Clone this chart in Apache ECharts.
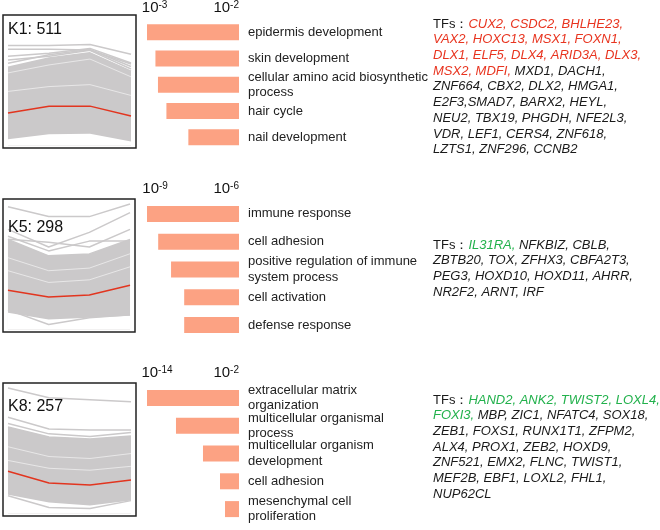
<!DOCTYPE html>
<html>
<head>
<meta charset="utf-8">
<script src="https://cdn.jsdelivr.net/npm/echarts@6/dist/echarts.min.js"></script>
<style>
  html, body { margin: 0; padding: 0; background: #fff; }
  #main { width: 660px; height: 530px; }
</style>
</head>
<body>
<div id="main"></div>
<script>
// ---- cluster profiles (4 time points, relative expression 0-100) ----
var timePoints = [0, 1, 2, 3];

var k1Mean = [24.8, 30.1, 30.1, 22.6];
var k1BandLow = [4.7, 8.5, 9.0, 3.0];
var k1BandHigh = [60, 67, 71, 57];
var k1Lines = [
  [76.7, 76.7, 77.4, 69.9],
  [73.7, 73.7, 73.2, 62.4],
  [68.4, 70.7, 74.4, 63.2],
  [65.4, 68.4, 72.9, 58.6],
  [63.0, 69.5, 73.5, 60.5]
];
var k1Gaps = [
  [55.6, 61.7, 66.2, 52.6],
  [41.4, 45.1, 46.6, 38.3]
];

var k5Mean = [30.1, 24.8, 26.3, 33.8];
var k5BandLow = [12.8, 7.5, 9.0, 10.5];
var k5BandHigh = [69, 56.4, 57.9, 69];
var k5Lines = [
  [94.0, 86.5, 86.5, 96.2],
  [76.7, 63.2, 74.4, 89.5],
  [69.2, 66.9, 63.2, 76.7],
  [71.4, 60.2, 67.7, 67.7],
  [15.0, 3.8, 9.0, 11.3]
];
var k5Gaps = [
  [55, 45, 47, 58],
  [45, 36, 38, 48]
];

var k8Mean = [32.3, 23.3, 21.8, 25.6];
var k8BandLow = [14.3, 8.3, 6.0, 9.8];
var k8BandHigh = [66.2, 58.6, 57.1, 59.4];
var k8Lines = [
  [96.2, 88.7, 87.2, 85.7],
  [73.7, 64.7, 63.9, 63.9],
  [69.0, 61.0, 59.0, 62.0],
  [13.5, 4.5, 3.8, 9.8]
];
var k8Gaps = [
  [51.1, 43.6, 42.1, 45.9],
  [40.6, 34.6, 33.1, 36.1]
];

// ---- GO enrichment, values are -log10(p) ----
var k1Terms = ['epidermis development', 'skin development', 'cellular amino acid biosynthetic\nprocess', 'hair cycle', 'nail development'];
var k1LogP = [3.09, 2.99, 2.96, 2.86, 2.60];
var k1Ticks = [2, 3];

var k5Terms = ['immune response', 'cell adhesion', 'positive regulation of immune\nsystem process', 'cell activation', 'defense response'];
var k5LogP = [9.29, 8.89, 8.43, 7.96, 7.96];
var k5Ticks = [6, 9];

var k8Terms = ['extracellular matrix\norganization', 'multicellular organismal\nprocess', 'multicellular organism\ndevelopment', 'cell adhesion', 'mesenchymal cell\nproliferation'];
var k8LogP = [15.46, 11.22, 7.27, 4.78, 4.05];
var k8Ticks = [2, 14];

// ---- transcription factors, per line ----
var k1TFs = [
  [['h', 'TFs：'], ['r', 'CUX2, CSDC2, BHLHE23,']],
  [['r', 'VAX2, HOXC13, MSX1, FOXN1,']],
  [['r', 'DLX1, ELF5, DLX4, ARID3A, DLX3,']],
  [['r', 'MSX2, MDFI,'], ['k', ' MXD1, DACH1,']],
  [['k', 'ZNF664, CBX2, DLX2, HMGA1,']],
  [['k', 'E2F3,SMAD7, BARX2, HEYL,']],
  [['k', 'NEU2, TBX19, PHGDH, NFE2L3,']],
  [['k', 'VDR, LEF1, CERS4, ZNF618,']],
  [['k', 'LZTS1, ZNF296, CCNB2']]
];
var k5TFs = [
  [['h', 'TFs：'], ['g', 'IL31RA,'], ['k', ' NFKBIZ, CBLB,']],
  [['k', 'ZBTB20, TOX, ZFHX3, CBFA2T3,']],
  [['k', 'PEG3, HOXD10, HOXD11, AHRR,']],
  [['k', 'NR2F2, ARNT, IRF']]
];
var k8TFs = [
  [['h', 'TFs：'], ['g', 'HAND2, ANK2, TWIST2, LOXL4,']],
  [['g', 'FOXI3,'], ['k', ' MBP, ZIC1, NFATC4, SOX18,']],
  [['k', 'ZEB1, FOXS1, RUNX1T1, ZFPM2,']],
  [['k', 'ALX4, PROX1, ZEB2, HOXD9,']],
  [['k', 'ZNF521, EMX2, FLNC, TWIST1,']],
  [['k', 'MEF2B, EBF1, LOXL2, FHL1,']],
  [['k', 'NUP62CL']]
];

var FONT = 'Liberation Sans, Arial, sans-serif';
var GRAY = '#cbc9ca';
var RED = '#e2351f';
var BAR = '#fca283';

function pairs(arr) {
  return arr.map(function (v, i) { return [timePoints[i], v]; });
}

var grids = [], xAxes = [], yAxes = [], series = [];

function addProfile(box, low, high, lines, gaps, mean) {
  var idx = grids.length;
  grids.push({ left: box[0], top: box[1], width: box[2], height: box[3], show: true,
    borderColor: '#222', borderWidth: 1.5, backgroundColor: 'transparent' });
  xAxes.push({ type: 'value', gridIndex: idx, min: -0.122, max: 3.122, show: false });
  yAxes.push({ type: 'value', gridIndex: idx, min: -2, max: 100, show: false });
  var base = { type: 'line', xAxisIndex: idx, yAxisIndex: idx, symbol: 'none', silent: true, animation: false };
  series.push(Object.assign({}, base, { data: pairs(high),
    lineStyle: { color: GRAY, width: 1.5 }, areaStyle: { color: GRAY, opacity: 1 } }));
  series.push(Object.assign({}, base, { data: pairs(low),
    lineStyle: { color: '#fff', width: 0 }, areaStyle: { color: '#fff', opacity: 1 } }));
  gaps.forEach(function (g) {
    series.push(Object.assign({}, base, { data: pairs(g), lineStyle: { color: '#fff', width: 1, opacity: 0.55 } }));
  });
  lines.forEach(function (l) {
    series.push(Object.assign({}, base, { data: pairs(l), lineStyle: { color: GRAY, width: 1.5 } }));
  });
  series.push(Object.assign({}, base, { data: pairs(mean), lineStyle: { color: RED, width: 1.5 } }));
}

function addBars(box, terms, logp, ticks) {
  var idx = grids.length;
  grids.push({ left: box[0], top: box[1], width: box[2], height: box[3] });
  xAxes.push({
    type: 'value', gridIndex: idx, position: 'top', inverse: true,
    min: ticks[0], max: Math.max.apply(null, logp), interval: ticks[1] - ticks[0],
    axisLine: { show: false }, axisTick: { show: false }, splitLine: { show: false },
    axisLabel: {
      margin: 3, showMaxLabel: false, alignMinLabel: 'right',
      formatter: function (v) { return '{a|10}{b|-' + v + '}'; },
      rich: {
        a: { fontSize: 15, fontFamily: FONT, color: '#111', lineHeight: 16 },
        b: { fontSize: 10, fontFamily: FONT, color: '#111', verticalAlign: 'top', lineHeight: 12 }
      }
    }
  });
  yAxes.push({
    type: 'category', gridIndex: idx, data: terms, inverse: true, position: 'right',
    axisLine: { show: false }, axisTick: { show: false },
    axisLabel: { interval: 0, align: 'left', margin: 9, fontSize: 13, fontFamily: FONT, color: '#222', lineHeight: 15.5 }
  });
  series.push({ type: 'bar', xAxisIndex: idx, yAxisIndex: idx, data: logp, barWidth: 16,
    itemStyle: { color: BAR }, silent: true, animation: false, clip: true });
}

addProfile([3, 15, 133, 133], k1BandLow, k1BandHigh, k1Lines, k1Gaps, k1Mean);
addBars([147, 15.5, 92, 135], k1Terms, k1LogP, k1Ticks);
addProfile([3, 199, 132, 133], k5BandLow, k5BandHigh, k5Lines, k5Gaps, k5Mean);
addBars([147, 200, 92, 139], k5Terms, k5LogP, k5Ticks);
addProfile([3, 383, 133, 133], k8BandLow, k8BandHigh, k8Lines, k8Gaps, k8Mean);
addBars([147, 384, 92, 139], k8Terms, k8LogP, k8Ticks);

function tfText(lines) {
  return lines.map(function (segs) {
    return segs.map(function (s) { return '{' + s[0] + '|' + s[1] + '}'; }).join('');
  }).join('\n');
}
var tfRich = {
  h: { fill: '#1a1a1a', fontStyle: 'normal', fontSize: 13, fontFamily: FONT, lineHeight: 15.7 },
  r: { fill: '#e8341f', fontStyle: 'italic', fontSize: 13, fontFamily: FONT, lineHeight: 15.7 },
  g: { fill: '#22b14c', fontStyle: 'italic', fontSize: 13, fontFamily: FONT, lineHeight: 15.7 },
  k: { fill: '#1a1a1a', fontStyle: 'italic', fontSize: 13, fontFamily: FONT, lineHeight: 15.7 }
};

function clusterLabel(text, y) {
  return { type: 'text', x: 8, y: y, z: 100,
    style: { text: text, fill: '#111', font: '16px ' + FONT, verticalAlign: 'middle' } };
}
function tfBlock(lines, y) {
  return { type: 'text', x: 433, y: y, z: 100,
    style: { text: tfText(lines), rich: tfRich, verticalAlign: 'top', font: '13px ' + FONT } };
}

var dom = document.getElementById('main');
var myChart = echarts.init(dom, null, { renderer: 'canvas' });

var option = {
  animation: false,
  grid: grids,
  xAxis: xAxes,
  yAxis: yAxes,
  series: series,
  graphic: [
    clusterLabel('K1: 511', 30),
    clusterLabel('K5: 298', 228),
    clusterLabel('K8: 257', 407),
    tfBlock(k1TFs, 16.2),
    tfBlock(k5TFs, 237.2),
    tfBlock(k8TFs, 392.2)
  ]
};

myChart.setOption(option);
window.addEventListener('resize', myChart.resize);
</script>
</body>
</html>
